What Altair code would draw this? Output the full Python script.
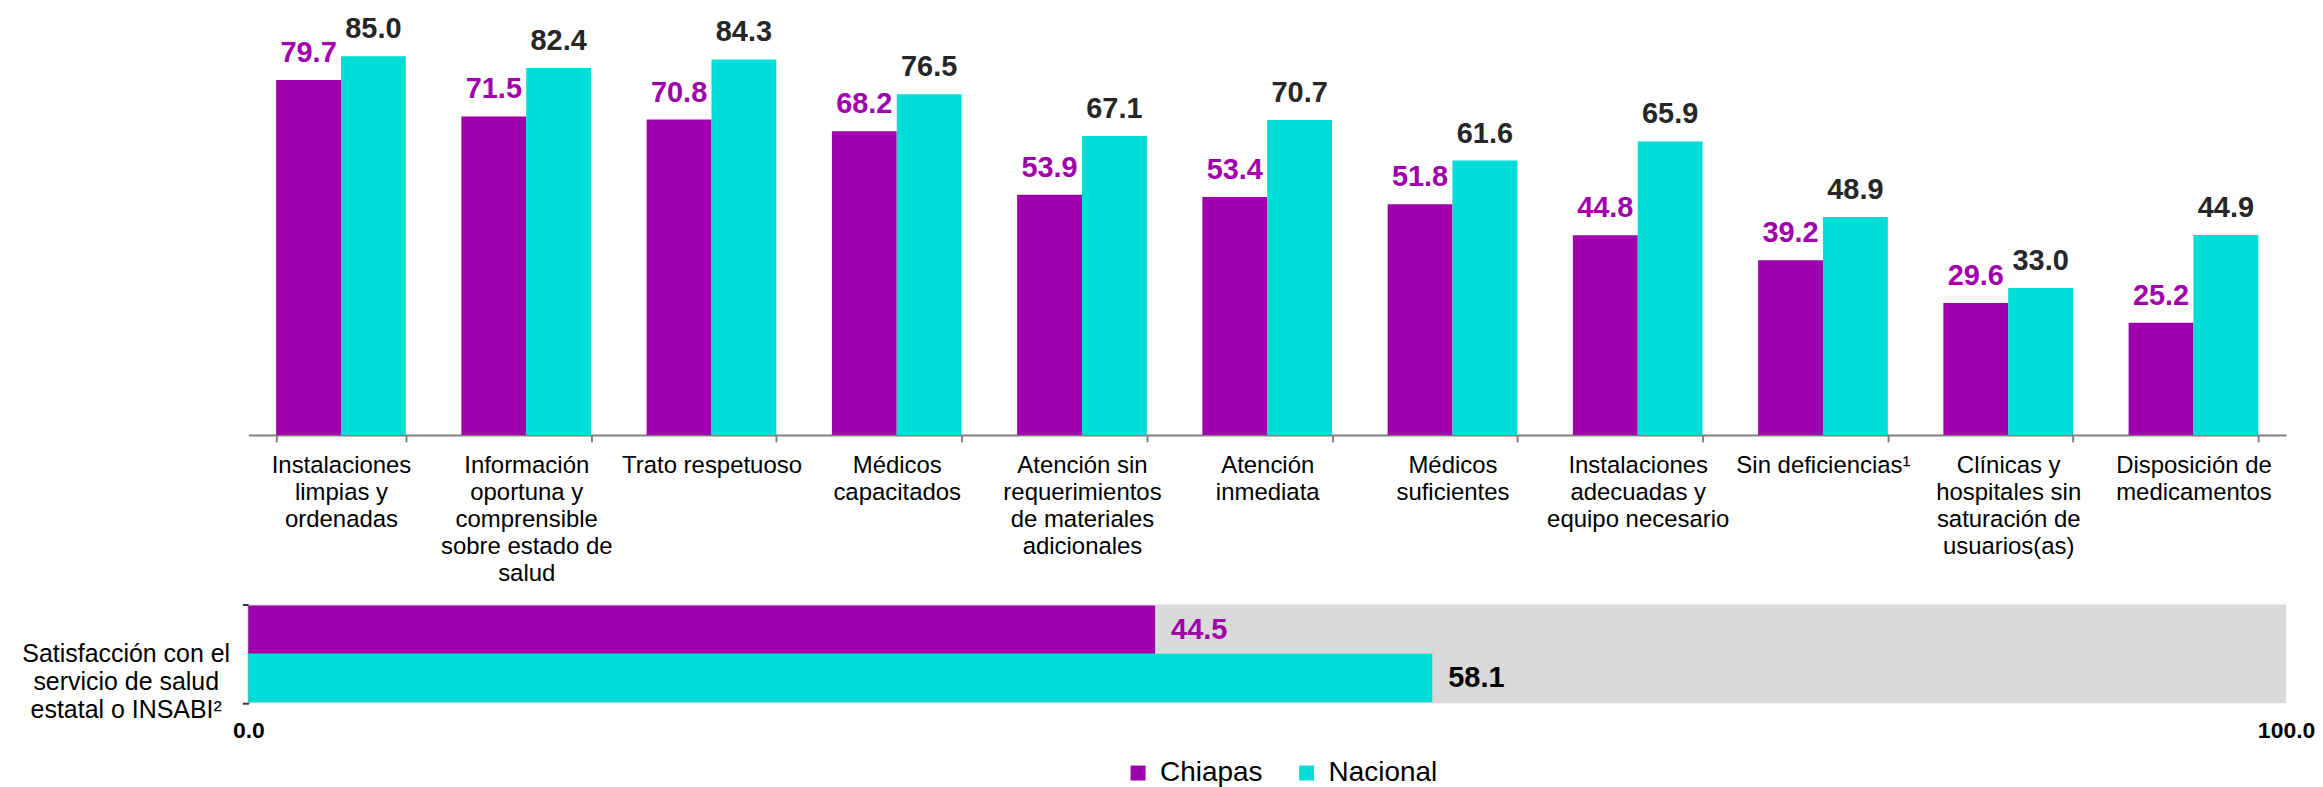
import altair as alt
import pandas as pd

categorias = [
    "Instalaciones\nlimpias y\nordenadas",
    "Información\noportuna y\ncomprensible\nsobre estado de\nsalud",
    "Trato respetuoso",
    "Médicos\ncapacitados",
    "Atención sin\nrequerimientos\nde materiales\nadicionales",
    "Atención\ninmediata",
    "Médicos\nsuficientes",
    "Instalaciones\nadecuadas y\nequipo necesario",
    "Sin deficiencias¹",
    "Clínicas y\nhospitales sin\nsaturación de\nusuarios(as)",
    "Disposición de\nmedicamentos",
]
series = ["Chiapas", "Nacional"]
chiapas = [79.7, 71.5, 70.8, 68.2, 53.9, 53.4, 51.8, 44.8, 39.2, 29.6, 25.2]
nacional = [85.0, 82.4, 84.3, 76.5, 67.1, 70.7, 61.6, 65.9, 48.9, 33.0, 44.9]

indicador = "Satisfacción con el\nservicio de salud\nestatal o INSABI²"
satisf = [44.5, 58.1]
escala_max = 100.0

PURPLE = "#A000AC"
CYAN = "#00DCD6"
FONT = "Liberation Sans"

rows = []
for i, c in enumerate(categorias):
    rows.append({"categoria": c, "serie": "Chiapas", "valor": chiapas[i]})
    rows.append({"categoria": c, "serie": "Nacional", "valor": nacional[i]})
df_top = pd.DataFrame(rows)

df_bot = pd.DataFrame({"indicador": [indicador] * 2, "serie": series, "valor": satisf})
df_bg = pd.DataFrame({"indicador": [indicador], "total": [escala_max]})

color_scale = alt.Scale(domain=series, range=[PURPLE, CYAN])

x_top = alt.X(
    "categoria:N", sort=categorias, title=None,
    scale=alt.Scale(paddingInner=0.3, paddingOuter=0.15),
    axis=alt.Axis(
        labelAngle=0, labelExpr="split(datum.label, '\\n')",
        labelFont=FONT, labelFontSize=24, labelLineHeight=27, labelColor="#000000",
        labelLimit=400, labelPadding=12, labelBaseline="top",
        tickBand="extent", tickSize=7, tickColor="#808080", domainColor="#808080",
        domainWidth=2, tickWidth=2, grid=False,
    ),
)
xoff = alt.XOffset("serie:N", sort=series, scale=alt.Scale(paddingInner=0, paddingOuter=0))
y_top = alt.Y("valor:Q", scale=alt.Scale(domain=[0, 94.5]), axis=None)

bars_top = alt.Chart(df_top).mark_bar().encode(
    x=x_top, xOffset=xoff, y=y_top,
    color=alt.Color(
        "serie:N", scale=color_scale, title=None,
        legend=alt.Legend(
            orient="none", legendX=878, legendY=747, direction="horizontal",
            symbolType="square", symbolSize=225, symbolStrokeWidth=0,
            labelFont=FONT, labelFontSize=28, labelColor="#000000",
            labelOffset=8, columnPadding=30, padding=0,
        ),
    ),
)
text_top = alt.Chart(df_top).mark_text(
    font=FONT, fontSize=29, fontWeight="bold", baseline="alphabetic", dy=-18
).encode(
    x=x_top, xOffset=xoff, y=y_top,
    text=alt.Text("valor:Q", format=".1f"),
    color=alt.condition(alt.datum.serie == "Chiapas", alt.value(PURPLE), alt.value("#262626")),
)
top = alt.layer(bars_top, text_top).properties(width=2043, height=422)

y_bot = alt.Y(
    "indicador:N", title=None,
    scale=alt.Scale(paddingInner=0, paddingOuter=0),
    axis=alt.Axis(
        labelExpr="split(datum.label, '\\n')", labelFont=FONT, labelFontSize=25,
        labelLineHeight=28, labelColor="#000000", labelLimit=400,
        labelAlign="center", labelPadding=117,
        tickBand="extent", tickSize=6, tickColor="#333333", domainColor="#333333",
        tickWidth=2, domainWidth=2,
    ),
)
x_bot = alt.X(
    "valor:Q", title=None, scale=alt.Scale(domain=[0, escala_max], nice=False),
    axis=alt.Axis(
        values=[0, escala_max], format=".1f", labelFont=FONT, labelFontSize=23,
        labelFontWeight="bold", labelColor="#000000", labelFlush=False,
        domain=False, ticks=False, tickSize=0, grid=False, labelPadding=16,
    ),
)
yoff = alt.YOffset("serie:N", sort=series, scale=alt.Scale(paddingInner=0, paddingOuter=0.02))

bg = alt.Chart(df_bg).mark_bar(color="#D9D9D9").encode(
    x=alt.X("total:Q", scale=alt.Scale(domain=[0, escala_max], nice=False)), y=y_bot
)
bars_bot = alt.Chart(df_bot).mark_bar().encode(
    x=x_bot, y=y_bot, yOffset=yoff,
    color=alt.Color("serie:N", scale=color_scale),
)
text_bot = alt.Chart(df_bot).mark_text(
    font=FONT, fontSize=29, fontWeight="bold", align="left", baseline="middle", dx=16
).encode(
    x=x_bot, y=y_bot, yOffset=yoff,
    text=alt.Text("valor:Q", format=".1f"),
    color=alt.condition(alt.datum.serie == "Chiapas", alt.value(PURPLE), alt.value("#000000")),
)
bottom = alt.layer(bg, bars_bot, text_bot).properties(width=2043, height=99)

chart = alt.vconcat(
    top, bottom, spacing=170, bounds="flush",
    padding={"left": 13, "top": 5, "right": 0, "bottom": 5},
).configure(
    background="#FFFFFF"
).configure_view(stroke=None, strokeWidth=0)

chart.save("out.html", embed_options={"renderer": "svg", "actions": False})
